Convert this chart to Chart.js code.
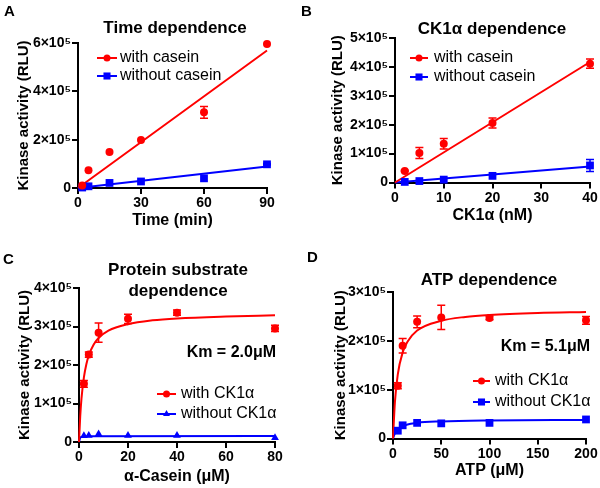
<!DOCTYPE html>
<html>
<head>
<meta charset="utf-8">
<script src="https://cdn.jsdelivr.net/npm/chart.js@4.4.0/dist/chart.umd.min.js"></script>
<style>
  body { margin: 0; background: #fff; }
  #wrap { position: relative; width: 600px; height: 488px; }
  canvas { position: absolute; }
</style>
</head>
<body>
<div id="wrap">
  <canvas id="cA" width="300" height="236" style="left:0;top:0"></canvas>
  <canvas id="cB" width="300" height="236" style="left:300px;top:0"></canvas>
  <canvas id="cC" width="300" height="252" style="left:0;top:236px"></canvas>
  <canvas id="cD" width="300" height="252" style="left:300px;top:236px"></canvas>
</div>
<script>
// ---- A: time dependence
var timeX = [2, 5, 15, 30, 60, 90];
var timeWith = [0.1e5, 0.73e5, 1.49e5, 1.99e5, 3.13e5, 5.96e5];
var timeWithErr = [0, 0, 0, 0, 0.24e5, 0];
var timeWithout = [0.02e5, 0.07e5, 0.21e5, 0.27e5, 0.40e5, 0.98e5];
var timeWithoutErr = [0, 0, 0, 0, 0, 0.03e5];
var timeFitX = [0, 90];
var timeWithFit = [0, 5.69e5];
var timeWithoutFit = [0, 0.89e5];

// ---- B: CK1a dependence
var ckX = [2, 5, 10, 20, 40];
var ckWith = [0.4e5, 1.02e5, 1.34e5, 2.06e5, 4.11e5];
var ckWithErr = [0.02e5, 0.19e5, 0.18e5, 0.17e5, 0.16e5];
var ckWithout = [0.02e5, 0.05e5, 0.1e5, 0.23e5, 0.59e5];
var ckWithoutErr = [0, 0, 0, 0, 0.21e5];
var ckFitX = [0, 40];
var ckWithFit = [0, 4.17e5];
var ckWithoutFit = [0, 0.55e5];

// ---- C: protein substrate dependence
var casX = [2, 4, 8, 20, 40, 80];
var casWith = [1.51e5, 2.27e5, 2.84e5, 3.2e5, 3.36e5, 2.95e5];
var casWithErr = [0.09e5, 0.07e5, 0.25e5, 0.12e5, 0.07e5, 0.08e5];
var casWithout = [0.16e5, 0.17e5, 0.21e5, 0.17e5, 0.17e5, 0.11e5];
var casWithFitX = [0, 0.5, 1, 2, 3, 4, 6, 8, 12, 20, 30, 40, 60, 80];
var casWithFit = [0, 0.67e5, 1.12e5, 1.68e5, 2.02e5, 2.25e5, 2.53e5, 2.7e5, 2.89e5, 3.06e5, 3.16e5, 3.21e5, 3.26e5, 3.29e5];
var casWithoutFitX = [0, 0.5, 1, 2, 4, 80];
var casWithoutFit = [0, 0.11e5, 0.13e5, 0.14e5, 0.148e5, 0.155e5];

// ---- D: ATP dependence
var atpX = [5, 10, 25, 50, 100, 200];
var atpWith = [1.08e5, 1.9e5, 2.39e5, 2.48e5, 2.47e5, 2.42e5];
var atpWithErr = [0.06e5, 0.15e5, 0.12e5, 0.25e5, 0.04e5, 0.08e5];
var atpWithout = [0.16e5, 0.27e5, 0.32e5, 0.31e5, 0.32e5, 0.39e5];
var atpWithFitX = [0, 2, 5, 10, 15, 25, 50, 75, 100, 150, 200];
var atpWithFit = [0, 0.75e5, 1.32e5, 1.76e5, 1.98e5, 2.21e5, 2.41e5, 2.49e5, 2.53e5, 2.57e5, 2.59e5];
var atpWithoutFitX = [0, 2, 5, 10, 25, 50, 100, 200];
var atpWithoutFit = [0, 0.1e5, 0.17e5, 0.25e5, 0.32e5, 0.35e5, 0.37e5, 0.38e5];

var RED = '#ff0000';
var BLUE = '#0000ff';
var FONT = '"Liberation Sans", Arial, sans-serif';

Chart.defaults.font.family = FONT;
Chart.defaults.color = '#000';

function pts(xs, ys) {
  return xs.map(function (x, i) { return { x: x, y: ys[i] }; });
}

function sci(v) {
  return v === 0 ? '0' : (v / 1e5) + '×10⁵';
}

function pointSet(label, xs, ys, errs, color, style, r) {
  return {
    label: label, data: pts(xs, ys), errors: errs,
    showLine: false, pointStyle: style, pointRadius: r, pointHoverRadius: r,
    backgroundColor: color, borderColor: color, borderWidth: 0, clip: false
  };
}

function fitSet(xs, ys, color) {
  return {
    label: '', data: pts(xs, ys), showLine: true, pointRadius: 0,
    borderColor: color, borderWidth: 2, cubicInterpolationMode: 'monotone', clip: false
  };
}

// error bars, panel letter, titles, legend and Km text
var panelDecor = {
  id: 'panelDecor',
  afterDatasetsDraw: function (chart, args, o) {
    var ctx = chart.ctx, ys = chart.scales.y;
    ctx.save();
    chart.data.datasets.forEach(function (ds, i) {
      if (!ds.errors) return;
      var meta = chart.getDatasetMeta(i);
      ctx.strokeStyle = ds.borderColor;
      ctx.lineWidth = 1.5;
      ds.data.forEach(function (p, j) {
        var e = ds.errors[j];
        if (!e) return;
        var x = meta.data[j].x;
        var y1 = ys.getPixelForValue(p.y - e), y2 = ys.getPixelForValue(p.y + e);
        ctx.beginPath();
        ctx.moveTo(x, y1); ctx.lineTo(x, y2);
        ctx.moveTo(x - 4, y1); ctx.lineTo(x + 4, y1);
        ctx.moveTo(x - 4, y2); ctx.lineTo(x + 4, y2);
        ctx.stroke();
      });
    });
    ctx.restore();
  },
  afterDraw: function (chart, args, o) {
    var ctx = chart.ctx;
    ctx.save();
    ctx.fillStyle = '#000';
    ctx.textBaseline = 'middle';
    ctx.font = 'bold 15px ' + FONT;
    ctx.textAlign = 'left';
    ctx.fillText(o.letter, o.lx, o.ly);
    ctx.font = 'bold 17px ' + FONT;
    ctx.textAlign = 'center';
    o.title.forEach(function (t, k) { ctx.fillText(t, o.tx, o.ty[k]); });
    if (o.km) {
      ctx.font = 'bold 16px ' + FONT;
      ctx.textAlign = 'right';
      ctx.fillText(o.km, o.kx, o.ky);
    }
    var lg = o.legend, n = 0;
    ctx.font = '16px ' + FONT;
    ctx.textAlign = 'left';
    chart.data.datasets.forEach(function (ds) {
      if (!ds.errors) return;
      var y = lg.ys[n++];
      ctx.strokeStyle = ds.borderColor;
      ctx.fillStyle = ds.borderColor;
      ctx.lineWidth = 2;
      ctx.beginPath(); ctx.moveTo(lg.x1, y); ctx.lineTo(lg.x2, y); ctx.stroke();
      Chart.helpers.drawPoint(ctx, { pointStyle: ds.pointStyle, radius: ds.pointRadius - 0.5, rotation: 0, borderWidth: 0 }, (lg.x1 + lg.x2) / 2, y);
      ctx.fillStyle = '#000';
      ctx.fillText(ds.label, lg.tx, y);
    });
    ctx.restore();
  }
};

function makePanel(id, p) {
  new Chart(document.getElementById(id).getContext('2d'), {
    type: 'scatter',
    data: { datasets: p.datasets },
    options: {
      responsive: false, animation: false, events: [],
      layout: { padding: { left: 0, top: p.top, right: p.right, bottom: 0 } },
      plugins: { legend: { display: false }, tooltip: { enabled: false }, panelDecor: p.decor },
      scales: {
        x: {
          type: 'linear', min: 0, max: p.xMax,
          afterFit: function (s) { s.height = p.xh; },
          border: { display: true, color: '#000', width: 2 },
          grid: { drawOnChartArea: false, drawTicks: true, tickLength: 6, color: '#000', lineWidth: 2 },
          ticks: { stepSize: p.xStep, padding: 1, font: { size: 14, weight: 'bold' } },
          title: { display: true, text: p.xTitle, font: { size: 16, weight: 'bold' }, padding: { top: 0, bottom: p.xtPad } }
        },
        y: {
          type: 'linear', min: 0, max: p.yMax,
          afterFit: function (s) { s.width = p.yw; },
          border: { display: true, color: '#000', width: 2 },
          grid: { drawOnChartArea: false, drawTicks: true, tickLength: 6, color: '#000', lineWidth: 2 },
          ticks: { stepSize: p.yStep, padding: 1, font: { size: 14, weight: 'bold' }, callback: sci },
          title: { display: true, text: 'Kinase activity (RLU)', font: { size: 15, weight: 'bold' }, padding: { top: p.ytPad, bottom: 0 } }
        }
      }
    },
    plugins: [panelDecor]
  });
}

makePanel('cA', {
  datasets: [
    pointSet('with casein', timeX, timeWith, timeWithErr, RED, 'circle', 4),
    pointSet('without casein', timeX, timeWithout, timeWithoutErr, BLUE, 'rect', 5.5),
    fitSet(timeFitX, timeWithFit, RED),
    fitSet(timeFitX, timeWithoutFit, BLUE)
  ],
  top: 43, right: 33, xh: 48, yw: 78, xtPad: 6, ytPad: 15,
  xMax: 90, xStep: 30, yMax: 6e5, yStep: 2e5, xTitle: 'Time (min)',
  decor: { letter: 'A', lx: 4, ly: 12, title: ['Time dependence'], tx: 175, ty: [28],
           legend: { x1: 97, x2: 117, tx: 120, ys: [58, 76] } }
});

makePanel('cB', {
  datasets: [
    pointSet('with casein', ckX, ckWith, ckWithErr, RED, 'circle', 4),
    pointSet('without casein', ckX, ckWithout, ckWithoutErr, BLUE, 'rect', 5.5),
    fitSet(ckFitX, ckWithFit, RED),
    fitSet(ckFitX, ckWithoutFit, BLUE)
  ],
  top: 38, right: 10, xh: 53.5, yw: 95, xtPad: 11, ytPad: 29,
  xMax: 40, xStep: 10, yMax: 5e5, yStep: 1e5, xTitle: 'CK1α (nM)',
  decor: { letter: 'B', lx: 1, ly: 12, title: ['CK1α dependence'], tx: 192, ty: [29],
           legend: { x1: 110, x2: 128, tx: 134, ys: [58, 77] } }
});

makePanel('cC', {
  datasets: [
    pointSet('with CK1α', casX, casWith, casWithErr, RED, 'circle', 4),
    pointSet('without CK1α', casX, casWithout, [0, 0, 0, 0, 0, 0], BLUE, 'triangle', 4.5),
    fitSet(casWithFitX, casWithFit, RED),
    fitSet(casWithoutFitX, casWithoutFit, BLUE)
  ],
  top: 52, right: 25, xh: 46, yw: 79, xtPad: 2, ytPad: 16,
  xMax: 80, xStep: 20, yMax: 4e5, yStep: 1e5, xTitle: 'α-Casein (μM)',
  decor: { letter: 'C', lx: 3, ly: 24, title: ['Protein substrate', 'dependence'], tx: 178, ty: [34, 55],
           km: 'Km = 2.0μM', kx: 276, ky: 117,
           legend: { x1: 157, x2: 176, tx: 181, ys: [158, 178] } }
});

makePanel('cD', {
  datasets: [
    pointSet('with CK1α', atpX, atpWith, atpWithErr, RED, 'circle', 4),
    pointSet('without CK1α', atpX, atpWithout, [0, 0, 0, 0, 0, 0], BLUE, 'rect', 5.5),
    fitSet(atpWithFitX, atpWithFit, RED),
    fitSet(atpWithoutFitX, atpWithoutFit, BLUE)
  ],
  top: 56, right: 14, xh: 49.5, yw: 93, xtPad: 8, ytPad: 32,
  xMax: 200, xStep: 50, yMax: 3e5, yStep: 1e5, xTitle: 'ATP (μM)',
  decor: { letter: 'D', lx: 7, ly: 22, title: ['ATP dependence'], tx: 189, ty: [44],
           km: 'Km = 5.1μM', kx: 290, ky: 111,
           legend: { x1: 173, x2: 190, tx: 195, ys: [145, 166] } }
});
</script>
</body>
</html>
